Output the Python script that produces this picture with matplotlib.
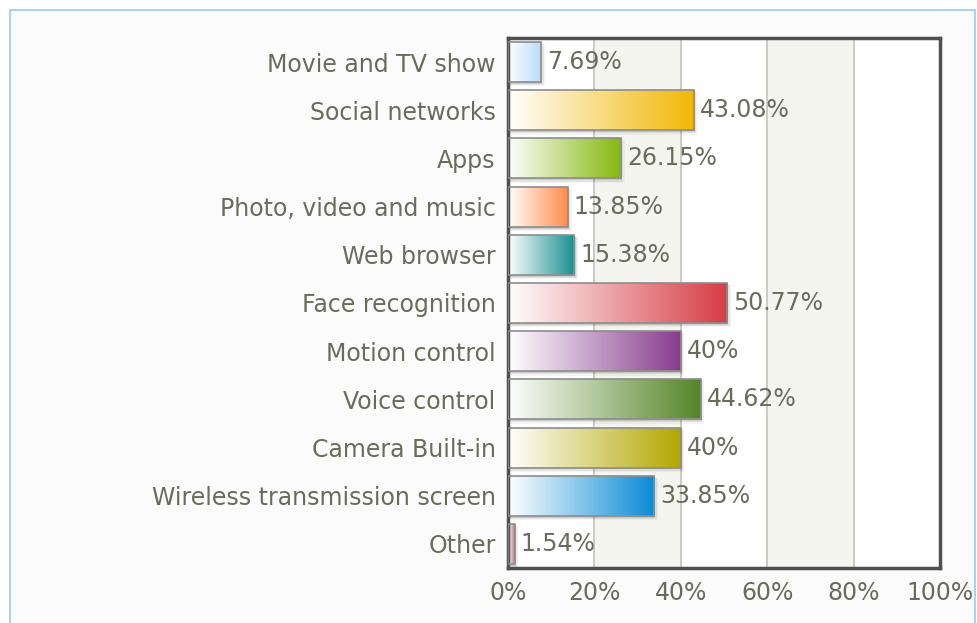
import numpy as np
import matplotlib.pyplot as plt
from matplotlib.colors import LinearSegmentedColormap
from matplotlib.patches import Rectangle

categories = ["Movie and TV show", "Social networks", "Apps", "Photo, video and music",
              "Web browser", "Face recognition", "Motion control", "Voice control",
              "Camera Built-in", "Wireless transmission screen", "Other"]
values = [7.69, 43.08, 26.15, 13.85, 15.38, 50.77, 40, 44.62, 40, 33.85, 1.54]
value_labels = ["7.69%", "43.08%", "26.15%", "13.85%", "15.38%", "50.77%",
                "40%", "44.62%", "40%", "33.85%", "1.54%"]
colors = ["#b8dbf7", "#f2b705", "#86b80c", "#ff8c4a", "#16908f", "#d63c44",
          "#873c8e", "#558528", "#b3a700", "#0a8bd6", "#c47a80"]
x_ticks = [0, 20, 40, 60, 80, 100]
x_tick_labels = ["0%", "20%", "40%", "60%", "80%", "100%"]

TEXT = "#6b6b5c"
FS = 17

fig = plt.figure(figsize=(9.78, 6.23), dpi=100)
fig.patch.set_facecolor("white")
# outer panel with light blue border
fig.patches.append(Rectangle((10 / 978, -0.02), 965 / 978, 1 - 10 / 623 + 0.02,
                             transform=fig.transFigure, facecolor="#fbfbfb",
                             edgecolor="#a9d1f0", linewidth=1.5, zorder=-5))

ax = fig.add_axes([508 / 978, 1 - 568 / 623, 432 / 978, 530 / 623])
ax.set_facecolor("white")
n = len(categories)

# alternating background bands
for i in range(len(x_ticks) - 1):
    if i % 2 == 1:
        ax.axvspan(x_ticks[i], x_ticks[i + 1], color="#f5f5f0", zorder=0)
for x in x_ticks[1:-1]:
    ax.axvline(x, color="#c8c8c0", lw=1.3, zorder=0.5)

y = np.arange(n)
h = 0.83
# drop shadows
for yi, v in zip(y, values):
    for k, a in enumerate([0.10, 0.07, 0.04]):
        off = 0.25 + 0.3 * k
        ax.add_patch(Rectangle((0, yi - h / 2 + 0.04), v + off, h + 0.025 * k,
                               facecolor="#000000", alpha=a, edgecolor="none", zorder=1))

bars = ax.barh(y, values, height=h, facecolor="none", edgecolor="#8c8c8c",
               linewidth=1.2, zorder=3)
grad = np.linspace(0, 1, 256).reshape(1, -1)
for bar, c in zip(bars, colors):
    cmap = LinearSegmentedColormap.from_list("g", ["#ffffff", c])
    x0, y0 = bar.get_x(), bar.get_y()
    w, hh = bar.get_width(), bar.get_height()
    im = ax.imshow(grad, cmap=cmap, aspect="auto", extent=[x0, x0 + w, y0 + hh, y0],
                   zorder=2, interpolation="bicubic")
    im.set_clip_path(bar)

ax.set_xlim(0, 100)
ax.set_ylim(n - 0.5, -0.5)

for yi, v, lab in zip(y, values, value_labels):
    ax.text(v + 1.4, yi, lab, va="center", ha="left", color=TEXT, fontsize=FS, zorder=4)

ax.set_yticks(y)
ax.set_yticklabels(categories, color=TEXT, fontsize=FS)
ax.set_xticks(x_ticks)
ax.set_xticklabels(x_tick_labels, color=TEXT, fontsize=FS)
ax.tick_params(axis="y", length=0, pad=9)
ax.tick_params(axis="x", length=0, pad=9)
for s in ax.spines.values():
    s.set_color("#4f4f4f")
    s.set_linewidth(2.5)

fig.savefig("out.png", dpi=100)
